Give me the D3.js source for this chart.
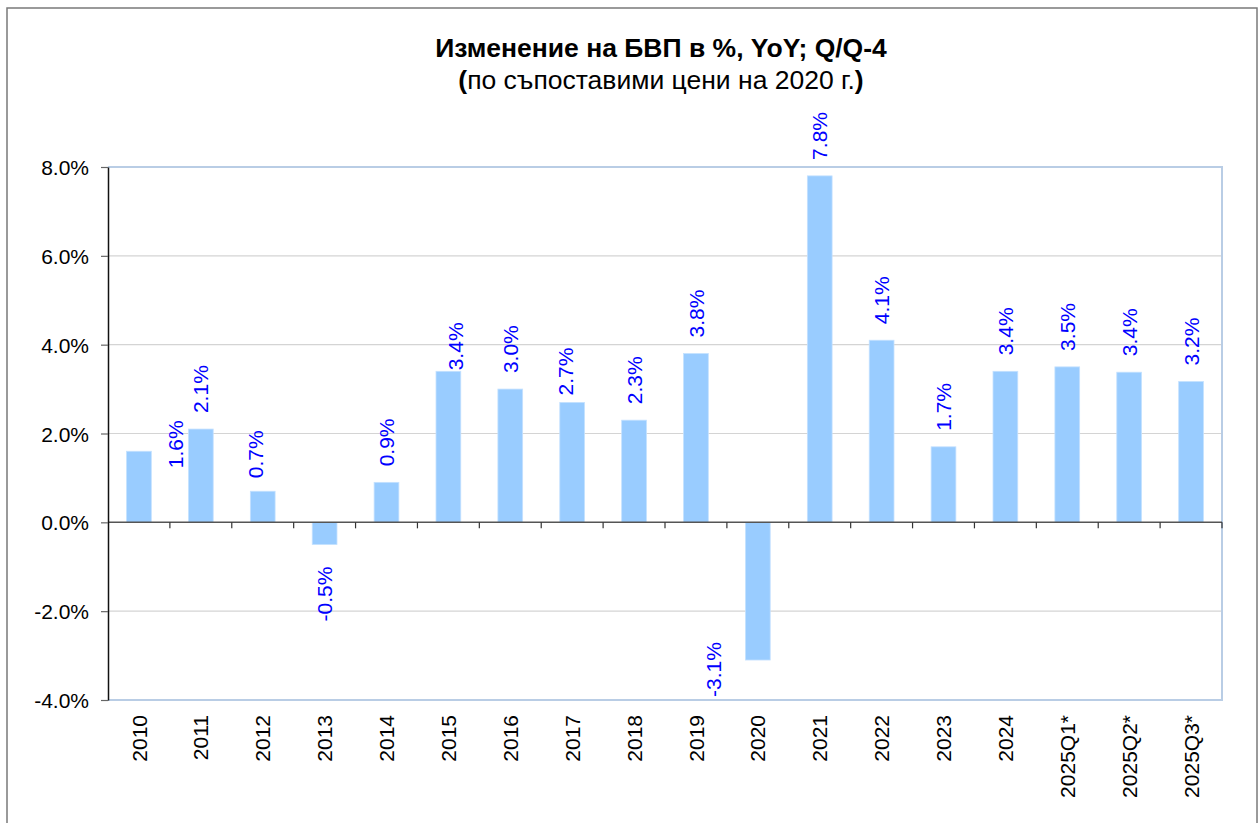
<!DOCTYPE html>
<html>
<head>
<meta charset="utf-8">
<script src="https://cdn.jsdelivr.net/npm/d3@7"></script>
<style>
  body { margin: 0; background: #fff; }
  text { font-family: Arial, "Liberation Sans", sans-serif; }
</style>
</head>
<body>
<div id="root"></div>
<script>
// data
var categories = ["2010", "2011", "2012", "2013", "2014", "2015", "2016", "2017", "2018",
    "2019", "2020", "2021", "2022", "2023", "2024", "2025Q1*", "2025Q2*", "2025Q3*"];
var growth = [1.6, 2.1, 0.7, -0.5, 0.9, 3.4, 3.0, 2.7, 2.3, 3.8, -3.1, 7.8, 4.1, 1.7, 3.4, 3.5, 3.38, 3.17];
var yTicks = [-4, -2, 0, 2, 4, 6, 8];
var title = "Изменение на БВП в %, YoY; Q/Q-4";
var subtitle = "по съпоставими цени на 2020 г.";

// a few labels sit off their bars in the original: [dx, dy] in px
var labelNudge = {
    "2010": [36, 33],
    "2012": [-7, 3],
    "2013": [0, 6],
    "2015": [7, 15],
    "2017": [-7, 9],
    "2020": [-44, -34]
};

var width = 1260, height = 823;
var margin = { top: 167, right: 38, bottom: 123, left: 108 };

var svg = d3.select("#root")
    .append("svg")
    .attr("width", width)
    .attr("height", height);

// outer chart frame
svg.append("rect")
    .attr("x", 7).attr("y", 8)
    .attr("width", 1250).attr("height", 840)
    .attr("fill", "none")
    .attr("stroke", "#7a7a7a")
    .attr("stroke-width", 1.5);

var x = d3.scaleBand()
    .domain(categories)
    .range([margin.left, width - margin.right])
    .paddingInner(0.6)
    .paddingOuter(0.3);

var y = d3.scaleLinear()
    .domain([-4, 8])
    .range([height - margin.bottom, margin.top]);

var left = margin.left, right = width - margin.right;

// gridlines
svg.append("g")
    .selectAll("line")
    .data(yTicks.filter(function (d) { return d !== 0 && d !== 8 && d !== -4; }))
    .enter()
    .append("line")
    .attr("x1", left).attr("x2", right)
    .attr("y1", function (d) { return y(d); })
    .attr("y2", function (d) { return y(d); })
    .attr("stroke", "#d4d4d4")
    .attr("stroke-width", 1.2);

// plot area border (top, right, bottom)
svg.append("path")
    .attr("d", "M" + left + "," + y(8) + "H" + right + "V" + y(-4) + "H" + left)
    .attr("fill", "none")
    .attr("stroke", "#b9cde5")
    .attr("stroke-width", 2);

// bars
svg.append("g")
    .selectAll("rect")
    .data(growth)
    .enter()
    .append("rect")
    .attr("x", function (d, i) { return x(categories[i]); })
    .attr("width", x.bandwidth())
    .attr("y", function (d) { return y(Math.max(0, d)); })
    .attr("height", function (d) { return Math.abs(y(d) - y(0)); })
    .attr("fill", "#99ccff")
    .attr("stroke", "#c4e1ff")
    .attr("stroke-width", 0.8);

// zero line and category ticks
svg.append("line")
    .attr("x1", left).attr("x2", right)
    .attr("y1", y(0)).attr("y2", y(0))
    .attr("stroke", "#555")
    .attr("stroke-width", 1.5);

var gap = (x.step() - x.bandwidth()) / 2;
svg.append("g")
    .selectAll("line")
    .data(categories)
    .enter()
    .append("line")
    .attr("x1", function (d) { return x(d) + x.bandwidth() + gap; })
    .attr("x2", function (d) { return x(d) + x.bandwidth() + gap; })
    .attr("y1", y(0)).attr("y2", y(0) + 6)
    .attr("stroke", "#333")
    .attr("stroke-width", 1.2);

// y axis
var yAxis = d3.axisLeft(y)
    .tickValues(yTicks)
    .tickFormat(function (d) { return d.toFixed(1) + "%"; })
    .tickSize(7)
    .tickSizeOuter(0)
    .tickPadding(12);

var gy = svg.append("g")
    .attr("transform", "translate(" + left + ",0)")
    .call(yAxis);
gy.select(".domain").attr("stroke", "#111").attr("stroke-width", 1.5);
gy.selectAll(".tick line").attr("stroke", "#666").attr("stroke-width", 1.2);
gy.selectAll(".tick text")
    .attr("fill", "#000")
    .style("font-size", "21px")
    .attr("dy", "0.36em");

// category labels, rotated
svg.append("g")
    .selectAll("text")
    .data(categories)
    .enter()
    .append("text")
    .attr("transform", function (d) {
        return "translate(" + (x(d) + x.bandwidth() / 2) + "," + (y(-4) + 15) + ") rotate(-90)";
    })
    .attr("text-anchor", "end")
    .attr("dy", "0.36em")
    .style("font-size", "21px")
    .attr("fill", "#000")
    .text(function (d) { return d; });

// data labels, rotated
svg.append("g")
    .selectAll("text")
    .data(growth)
    .enter()
    .append("text")
    .attr("transform", function (d, i) {
        var n = labelNudge[categories[i]] || [0, 0];
        var cx = x(categories[i]) + x.bandwidth() / 2 + n[0];
        var cy = d >= 0 ? y(d) - 16 : y(d) + 16;
        return "translate(" + cx + "," + (cy + n[1]) + ") rotate(-90)";
    })
    .attr("text-anchor", function (d) { return d >= 0 ? "start" : "end"; })
    .attr("dy", "0.36em")
    .style("font-size", "21px")
    .attr("fill", "#0000ff")
    .text(function (d) { return d.toFixed(1) + "%"; });

// title
svg.append("text")
    .attr("x", 661).attr("y", 57)
    .attr("text-anchor", "middle")
    .style("font-size", "26.5px")
    .style("font-weight", "bold")
    .text(title);

var sub = svg.append("text")
    .attr("x", 661).attr("y", 89)
    .attr("text-anchor", "middle")
    .style("font-size", "26.5px");
sub.append("tspan").style("font-weight", "bold").text("(");
sub.append("tspan").text(subtitle);
sub.append("tspan").style("font-weight", "bold").text(")");
</script>
</body>
</html>
